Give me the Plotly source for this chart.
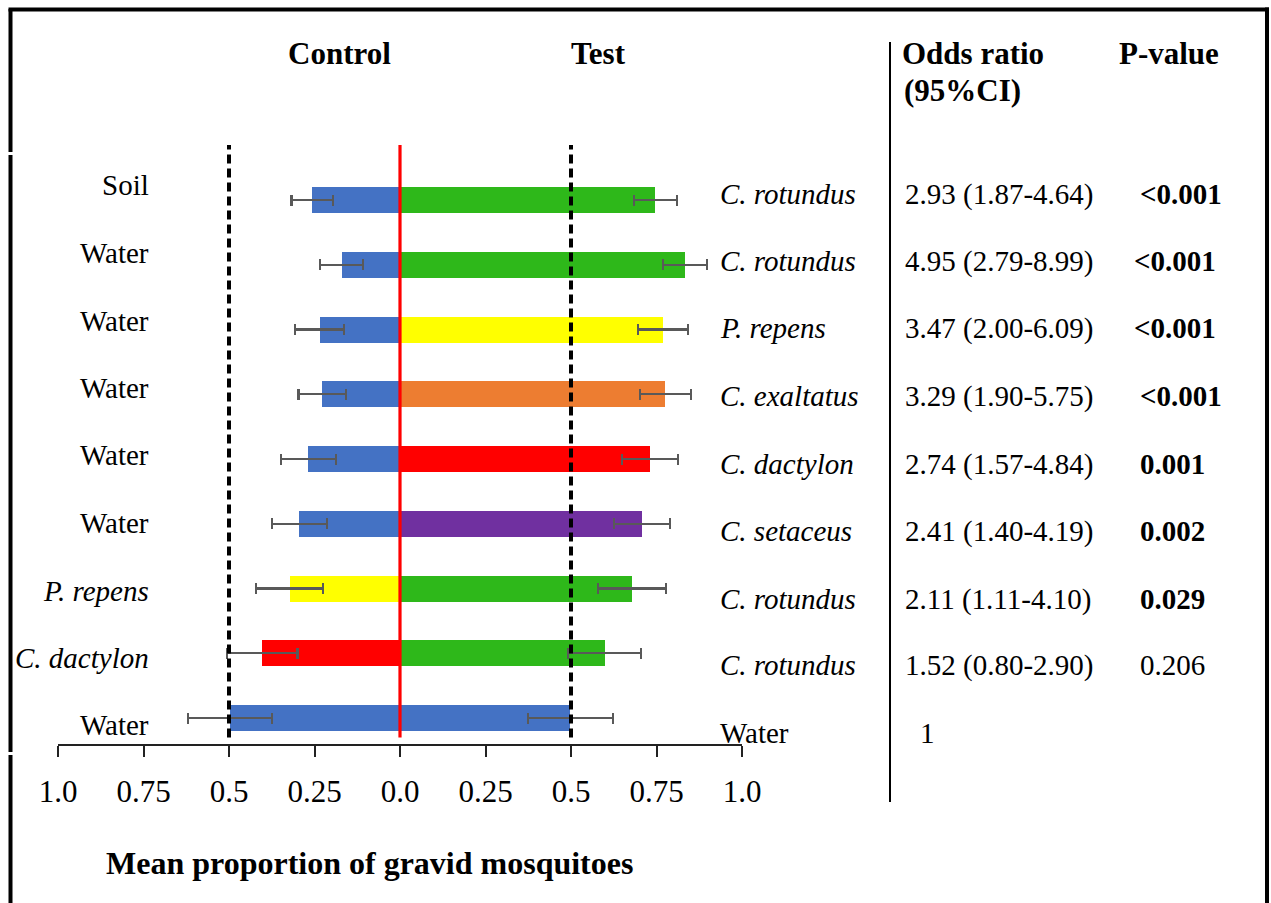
import plotly.graph_objects as go

# ---------------- data (rows listed top to bottom) ----------------
control_labels = ["Soil", "Water", "Water", "Water", "Water", "Water",
                  "P. repens", "C. dactylon", "Water"]
control_means = [0.257, 0.171, 0.235, 0.227, 0.268, 0.294, 0.323, 0.403, 0.497]
control_err = [0.060, 0.063, 0.072, 0.070, 0.081, 0.081, 0.098, 0.103, 0.122]

test_labels = ["C. rotundus", "C. rotundus", "P. repens", "C. exaltatus",
               "C. dactylon", "C. setaceus", "C. rotundus", "C. rotundus", "Water"]
test_means = [0.747, 0.833, 0.769, 0.776, 0.731, 0.708, 0.678, 0.598, 0.498]
test_err = [0.062, 0.064, 0.074, 0.074, 0.082, 0.082, 0.100, 0.106, 0.124]

odds_ratios = ["2.93 (1.87-4.64)", "4.95 (2.79-8.99)", "3.47 (2.00-6.09)",
               "3.29 (1.90-5.75)", "2.74 (1.57-4.84)", "2.41 (1.40-4.19)",
               "2.11 (1.11-4.10)", "1.52 (0.80-2.90)", "1"]
p_values = ["<0.001", "<0.001", "<0.001", "<0.001", "0.001", "0.002",
            "0.029", "0.206", ""]
p_significant = [True, True, True, True, True, True, True, False, False]

tick_vals = [-1.0, -0.75, -0.5, -0.25, 0.0, 0.25, 0.5, 0.75, 1.0]
tick_text = ["1.0", "0.75", "0.5", "0.25", "0.0", "0.25", "0.5", "0.75", "1.0"]

species_colors = {
    "Soil": "#4472C4", "Water": "#4472C4", "C. rotundus": "#2EB81A",
    "P. repens": "#FFFF00", "C. exaltatus": "#ED7D31", "C. dactylon": "#FF0000",
    "C. setaceus": "#7030A0",
}
italic_species = {"C. rotundus", "P. repens", "C. exaltatus", "C. dactylon", "C. setaceus"}

# ---------------- layout geometry (pixels) ----------------
W, H = 1271, 903
PL, PR, PT, PB = 58, 742, 145, 744  # plot area
FONT = "Liberation Serif, Times New Roman, Times, DejaVu Serif, serif"


def px(x):
    return (x - PL) / (PR - PL)


def py(y):
    return (PB - y) / (PB - PT)


n = len(control_means)
ypos = [n - 1 - i for i in range(n)]

fig = go.Figure()
fig.add_trace(go.Bar(
    y=ypos, x=[-v for v in control_means], orientation="h", width=0.4,
    marker=dict(color=[species_colors[s] for s in control_labels], line=dict(width=0)),
    error_x=dict(type="data", array=control_err, color="#595959", thickness=2.2, width=5.5),
    showlegend=False, hoverinfo="skip",
))
fig.add_trace(go.Bar(
    y=ypos, x=test_means, orientation="h", width=0.4,
    marker=dict(color=[species_colors[s] for s in test_labels], line=dict(width=0)),
    error_x=dict(type="data", array=test_err, color="#595959", thickness=2.2, width=5.5),
    showlegend=False, hoverinfo="skip",
))

shapes = []
# reference lines
for xv in (-0.5, 0.5):
    shapes.append(dict(type="line", xref="x", yref="y", x0=xv, x1=xv, y0=-0.3, y1=8.87,
                       line=dict(color="black", width=4, dash="9px,5px"), layer="above"))
shapes.append(dict(type="line", xref="x", yref="y", x0=0, x1=0, y0=-0.3, y1=8.85,
                   line=dict(color="#FF0000", width=3.2), layer="above"))
# frame
frame = [
    (10.5, 9, 10.5, 152), (10.5, 155, 10.5, 752), (10.5, 755, 10.5, 903),
    (8.5, 9.5, 1269, 9.5), (1267, 7.5, 1267, 903),
]
for x0, y0, x1, y1 in frame:
    shapes.append(dict(type="line", xref="paper", yref="paper", x0=px(x0), x1=px(x1),
                       y0=py(y0), y1=py(y1), line=dict(color="black", width=4)))
# separator
shapes.append(dict(type="line", xref="paper", yref="paper", x0=px(890), x1=px(890),
                   y0=py(42), y1=py(802), line=dict(color="black", width=2)))

ann = []


def add_text(text, x, y, xanchor="left", size=29, bold=False, italic=False):
    t = text
    if italic:
        t = "<i>" + t + "</i>"
    if bold:
        t = "<b>" + t + "</b>"
    ann.append(dict(text=t, x=px(x), y=py(y), xref="paper", yref="paper",
                    xanchor=xanchor, yanchor="middle", showarrow=False,
                    font=dict(family=FONT, size=size, color="black")))


left_y = [183, 251, 319, 386, 453, 521, 589, 656, 723]
right_y = [192, 259, 326, 394, 462, 529, 597, 663, 731]

for i in range(n):
    add_text(control_labels[i], 151, left_y[i] + 2, xanchor="right",
             italic=control_labels[i] in italic_species)
    add_text(test_labels[i], 718, right_y[i] + 2, xanchor="left",
             italic=test_labels[i] in italic_species)
    ox = 918 if odds_ratios[i] == "1" else 903
    add_text(odds_ratios[i], ox, right_y[i] + 2, xanchor="left")
    if p_values[i]:
        pxl = 1132 if i in (1, 2) else 1138
        add_text(p_values[i], pxl, right_y[i] + 2, xanchor="left", bold=p_significant[i])

add_text("Control", 339, 54, xanchor="center", size=31, bold=True)
add_text("Test", 598, 54, xanchor="center", size=31, bold=True)
add_text("Odds ratio", 900, 54, xanchor="left", size=31, bold=True)
add_text("(95%CI)", 902, 91, xanchor="left", size=31, bold=True)
add_text("P-value", 1117, 54, xanchor="left", size=31, bold=True)
add_text("Mean proportion of gravid mosquitoes", 369, 863, xanchor="center", size=32, bold=True)

fig.update_layout(
    width=W, height=H, autosize=False,
    margin=dict(l=PL, r=W - PR, t=PT, b=H - PB, pad=0),
    paper_bgcolor="white", plot_bgcolor="white",
    barmode="overlay", bargap=0,
    shapes=shapes, annotations=ann,
    xaxis=dict(range=[-1.0, 1.0], tickvals=tick_vals, ticktext=tick_text,
               showgrid=False, zeroline=False, showline=True, linecolor="#222222",
               linewidth=1.5, ticks="outside", ticklen=11, tickwidth=1.5, tickcolor="#222222",
               tickfont=dict(family=FONT, size=31, color="black"), ticklabelstandoff=8,
               fixedrange=True),
    yaxis=dict(range=[-0.4, 8.85], showgrid=False, zeroline=False, showline=False,
               showticklabels=False, ticks="", fixedrange=True),
)

fig.write_html("out.html", config={"displayModeBar": False})
